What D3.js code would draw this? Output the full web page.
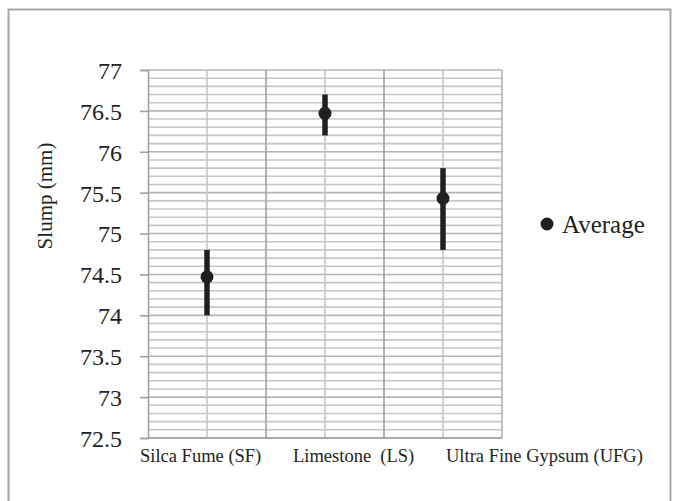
<!DOCTYPE html>
<html>
<head>
<meta charset="utf-8">
<script src="https://cdn.jsdelivr.net/npm/d3@7"></script>
<style>
  html, body { margin: 0; padding: 0; background: #fff; }
  svg { display: block; }
  text { font-family: "Liberation Serif", "Times New Roman", serif; fill: #231f20; white-space: pre; }
</style>
</head>
<body>
<svg id="chart" width="673" height="501"></svg>
<script>
const categories = ["Silca Fume (SF)", "Limestone  (LS)", "Ultra Fine Gypsum (UFG)"];
const averages = [74.47, 76.47, 75.43];
const lowerBounds = [74.0, 76.2, 74.8];
const upperBounds = [74.8, 76.7, 75.8];
const yTicks = [72.5, 73, 73.5, 74, 74.5, 75, 75.5, 76, 76.5, 77];
const seriesName = "Average";
const yTitle = "Slump (mm)";

const svg = d3.select("#chart");
const plot = { left: 148, right: 502, top: 70, bottom: 438 };

// outer chart border
svg.append("rect")
  .attr("x", 8.5).attr("y", 9.5)
  .attr("width", 662).attr("height", 520)
  .attr("fill", "none").attr("stroke", "#a6a6a6").attr("stroke-width", 2);

const x = d3.scaleBand().domain(categories).range([plot.left, plot.right]).padding(0);
const y = d3.scaleLinear().domain([72.5, 77]).range([plot.bottom, plot.top]);

// minor horizontal gridlines every 0.1
const minor = d3.range(725, 771, 1).map(v => v / 10);
svg.append("g").selectAll("line").data(minor).join("line")
  .attr("x1", plot.left).attr("x2", plot.right)
  .attr("y1", d => y(d)).attr("y2", d => y(d))
  .attr("stroke", d => (Math.round(d * 10) % 5 === 0) ? "#b4b4b4" : "#c6c6c6")
  .attr("stroke-width", 1.6);

// vertical gridlines: category centres (light) and boundaries (darker)
svg.append("g").selectAll("line").data(categories).join("line")
  .attr("x1", d => x(d) + x.bandwidth() / 2).attr("x2", d => x(d) + x.bandwidth() / 2)
  .attr("y1", plot.top).attr("y2", plot.bottom)
  .attr("stroke", "#c6c6c6").attr("stroke-width", 1.6);
svg.append("g").selectAll("line").data(categories.slice(1)).join("line")
  .attr("x1", d => x(d)).attr("x2", d => x(d))
  .attr("y1", plot.top).attr("y2", plot.bottom)
  .attr("stroke", "#a0a0a0").attr("stroke-width", 1.6);
// right edge
svg.append("line")
  .attr("x1", plot.right).attr("x2", plot.right)
  .attr("y1", plot.top).attr("y2", plot.bottom)
  .attr("stroke", "#b4b4b4").attr("stroke-width", 1.6);

// y axis
const yAxis = d3.axisLeft(y).tickValues(yTicks).tickSize(8).tickPadding(18)
  .tickFormat(d => String(d));
const gy = svg.append("g").attr("transform", `translate(${plot.left},0)`).call(yAxis)
  .attr("font-family", "'Liberation Serif', 'Times New Roman', serif")
  .attr("font-size", 24);
gy.select(".domain").attr("stroke", "#a0a0a0").attr("stroke-width", 1.6);
gy.selectAll(".tick line").attr("stroke", "#a0a0a0").attr("stroke-width", 1.6);
gy.selectAll(".tick text").attr("fill", "#231f20").attr("dy", "0.35em");

// bottom axis line
svg.append("line")
  .attr("x1", plot.left).attr("x2", plot.right)
  .attr("y1", plot.bottom).attr("y2", plot.bottom)
  .attr("stroke", "#a0a0a0").attr("stroke-width", 1.6);

// x labels
const xl = d3.scalePoint().domain(categories).range([140, 446]);
svg.append("g").selectAll("text").data(categories).join("text")
  .attr("x", d => xl(d)).attr("y", 462)
  .attr("text-anchor", "start")
  .attr("xml:space", "preserve")
  .style("font-size", "18.5px")
  .text(d => d);

// y title
svg.append("text")
  .attr("transform", `translate(52,196) rotate(-90)`)
  .attr("text-anchor", "middle")
  .style("font-size", "21px")
  .text(yTitle);

// error bars
const cx = d => x(d) + x.bandwidth() / 2;
svg.append("g").selectAll("line").data(categories).join("line")
  .attr("x1", d => cx(d)).attr("x2", d => cx(d))
  .attr("y1", (d, i) => y(lowerBounds[i])).attr("y2", (d, i) => y(upperBounds[i]))
  .attr("stroke", "#231f20").attr("stroke-width", 5.5);

// points
svg.append("g").selectAll("circle").data(categories).join("circle")
  .attr("cx", d => cx(d)).attr("cy", (d, i) => y(averages[i]))
  .attr("r", 6.5).attr("fill", "#231f20");

// legend
const lg = svg.append("g").attr("transform", "translate(547,224)");
lg.append("circle").attr("r", 6.5).attr("fill", "#231f20");
lg.append("text").attr("x", 15).attr("y", 0).attr("dy", "0.35em")
  .style("font-size", "25px").text(seriesName);
</script>
</body>
</html>
